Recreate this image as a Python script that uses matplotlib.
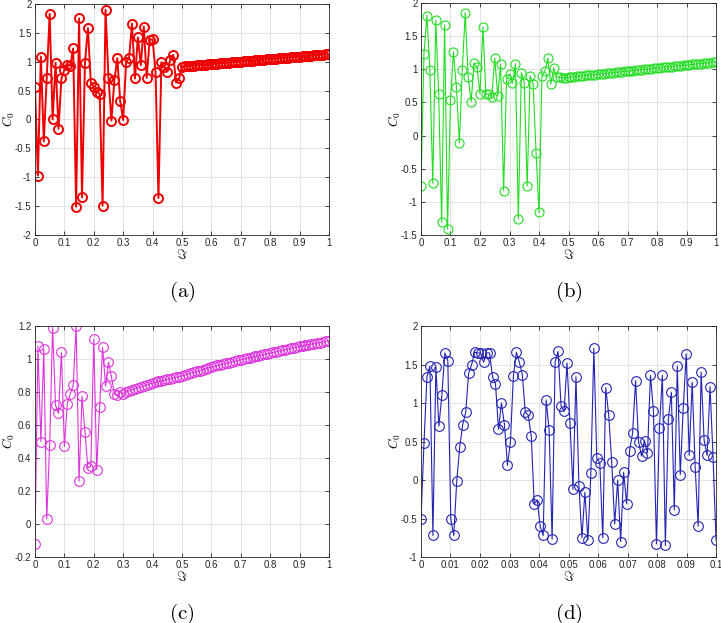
import numpy as np
import matplotlib
matplotlib.use("Agg")
import matplotlib.pyplot as plt

plt.rcParams['mathtext.fontset'] = 'cm'
plt.rcParams['axes.unicode_minus'] = False
plt.rcParams['font.family'] = ['Liberation Sans', 'DejaVu Sans']

# panel (a) - red
c0_a = [0.56, -0.97, 1.09, -0.38, 0.72, 1.83, 0.00, 0.98, -0.16, 0.71,
        0.86, 0.95, 0.93, 1.23, -1.51, 1.75, -1.35, 0.98, 1.58, 0.64,
        0.57, 0.48, 0.45, -1.49, 1.90, 0.72, -0.02, 0.68, 1.06, 0.32,
        -0.01, 1.00, 1.06, 1.66, 0.71, 1.42, 0.94, 1.61, 0.72, 1.38,
        1.39, 0.83, -1.36, 0.99, 0.91, 0.83, 1.03, 1.12, 0.64, 0.71,
        0.91,
        0.920, 0.925, 0.929, 0.933, 0.937, 0.942, 0.946, 0.950, 0.955, 0.959,
        0.963, 0.967, 0.972, 0.976, 0.980, 0.985, 0.989, 0.993, 0.998, 1.002,
        1.006, 1.010, 1.015, 1.019, 1.023, 1.028, 1.032, 1.036, 1.041, 1.045,
        1.049, 1.053, 1.058, 1.062, 1.066, 1.071, 1.075, 1.079, 1.084, 1.088,
        1.092, 1.096, 1.101, 1.105, 1.109, 1.114, 1.118, 1.122, 1.127, 1.131]

# panel (b) - green
c0_b = [-0.76, 1.23, 1.81, 0.99, -0.72, 1.74, 0.63, -1.31, 1.67, -1.41,
        0.53, 1.26, 0.73, -0.11, 0.99, 1.85, 0.88, 0.51, 1.09, 1.03,
        0.63, 1.64, 0.62, 0.63, 0.58, 1.17, 0.60, 1.08, -0.83, 0.85,
        0.93, 0.79, 1.08, -1.26, 0.95, 0.80, -0.76, 0.90, 0.78, -0.26,
        -1.16, 0.90, 0.97, 1.17, 0.78, 1.02, 0.88, 0.88,
        0.870, 0.875, 0.879, 0.884, 0.888, 0.893, 0.898, 0.902, 0.907, 0.912,
        0.916, 0.921, 0.925, 0.930, 0.935, 0.939, 0.944, 0.948, 0.953, 0.958,
        0.962, 0.967, 0.972, 0.976, 0.981, 0.985, 0.990, 0.995, 0.999, 1.004,
        1.008, 1.013, 1.018, 1.022, 1.027, 1.032, 1.036, 1.041, 1.045, 1.050,
        1.055, 1.059, 1.064, 1.068, 1.073, 1.078, 1.082, 1.087, 1.092, 1.096,
        1.101, 1.105, 1.110]

# panel (c) - magenta
c0_c = [-0.12, 1.08, 0.50, 1.06, 0.03, 0.48, 1.19, 0.72, 0.67, 1.04,
        0.47, 0.73, 0.79, 0.84, 1.20, 0.26, 0.775, 0.56, 0.34, 0.35,
        1.12, 0.33, 0.71, 1.07, 0.835, 0.98, 0.895, 0.785, 0.78, 0.80,
        0.790, 0.800, 0.807, 0.813, 0.819, 0.825, 0.831, 0.837, 0.843, 0.849,
        0.855, 0.859, 0.864, 0.868, 0.872, 0.877, 0.881, 0.885, 0.890, 0.894,
        0.898, 0.903, 0.909, 0.914, 0.920, 0.925, 0.930, 0.936, 0.941, 0.947,
        0.952, 0.956, 0.961, 0.965, 0.970, 0.974, 0.978, 0.983, 0.987, 0.992,
        0.996, 1.000, 1.004, 1.008, 1.012, 1.016, 1.020, 1.024, 1.028, 1.032,
        1.036, 1.040, 1.044, 1.048, 1.052, 1.057, 1.061, 1.065, 1.069, 1.073,
        1.077, 1.080, 1.084, 1.087, 1.090, 1.094, 1.097, 1.100, 1.103, 1.107,
        1.110]

# panel (d) - blue
c0_d = [-0.51, 0.48, 1.34, 1.48, -0.72, 1.47, 0.70, 1.10, 1.65, 1.55,
        -0.51, -0.72, -0.01, 0.43, 0.72, 0.88, 1.39, 1.50, 1.66, 1.65,
        1.65, 1.53, 1.65, 1.65, 1.34, 1.25, 0.66, 1.00, 0.72, 0.19,
        0.49, 1.35, 1.66, 1.53, 1.37, 0.88, 0.84, 0.57, -0.31, -0.26,
        -0.60, -0.72, 1.04, 0.65, -0.77, 1.53, 1.67, 0.96, 0.89, 1.52,
        0.74, -0.12, 1.34, -0.08, -0.75, -0.16, -0.78, 0.09, 1.71, 0.28,
        0.22, -0.75, 1.20, 0.84, 0.23, -0.57, 0.00, -0.80, 0.10, -0.31,
        0.38, 0.61, 1.29, 0.50, 0.31, 0.51, 0.35, 1.36, 0.90, -0.83,
        0.67, 1.36, -0.85, 0.79, 1.14, -0.39, 1.48, 0.07, 0.94, 1.64,
        0.32, 1.27, 0.17, -0.60, 1.40, 0.52, 0.32, 1.21, 0.30, -0.78]

x_a = np.linspace(0, 1, len(c0_a))
x_b = np.linspace(0, 1, len(c0_b))
x_c = np.linspace(0, 1, len(c0_c))
x_d = np.linspace(0, 0.1, len(c0_d))

fig = plt.figure(figsize=(7.21, 6.23), dpi=100)

panels = [
    # x, y, pos, color, lw, ms, mew, xlim, ylim, yticks, xticks, caption
    (x_a, c0_a, [0.0485, 0.6228, 0.4078, 0.3708], '#ee0000', 1.4, 6.5, 1.4,
     (0, 1), (-2, 2), np.arange(-2, 2.01, 0.5), np.arange(0, 1.01, 0.1), '(a)'),
    (x_b, c0_b, [0.5839, 0.6228, 0.4092, 0.3724], '#22dd22', 0.8, 6.5, 0.8,
     (0, 1), (-1.5, 2), np.arange(-1.5, 2.01, 0.5), np.arange(0, 1.01, 0.1), '(b)'),
    (x_c, c0_c, [0.0485, 0.1059, 0.4078, 0.3708], '#dd33dd', 0.8, 7, 0.8,
     (0, 1), (-0.2, 1.2), np.arange(-0.2, 1.21, 0.2), np.arange(0, 1.01, 0.1), '(c)'),
    (x_d, c0_d, [0.5839, 0.1059, 0.4092, 0.3708], '#2323b4', 0.8, 7, 0.8,
     (0, 0.1), (-1, 2), np.arange(-1, 2.01, 0.5), np.arange(0, 0.101, 0.01), '(d)'),
]

def fmt(v):
    return '%g' % round(v, 3)

for x, y, pos, col, lw, ms, mew, xl, yl, yt, xt, cap in panels:
    ax = fig.add_axes(pos)
    ax.plot(x, y, '-o', color=col, lw=lw, ms=ms, mfc='none', mec=col, mew=mew)
    ax.set_xlim(*xl)
    ax.set_ylim(*yl)
    ax.set_xticks(xt)
    ax.set_yticks(yt)
    ax.set_xticklabels([fmt(v) for v in xt])
    ax.set_yticklabels([fmt(v) for v in yt])
    ax.grid(True, color='#e3e3e3', lw=0.7)
    ax.set_axisbelow(True)
    for s in ax.spines.values():
        s.set_color('#262626')
        s.set_linewidth(0.6)
    ax.tick_params(direction='in', length=3, width=0.6, labelsize=7,
                   top=True, right=True, colors='#262626', pad=2.5)
    ax.set_xlabel(r'$\Im$', fontsize=10, labelpad=0)
    ax.set_ylabel(r'$C_0$', fontsize=9.5, va='center')
    ax.yaxis.set_label_coords(-0.09, 0.5)
    cx = pos[0] + pos[2] / 2
    fig.text(cx, pos[1] - 0.092, r'$\mathrm{%s}$' % cap, ha='center',
             va='center', fontsize=15)

fig.savefig('out.png', dpi=100)
